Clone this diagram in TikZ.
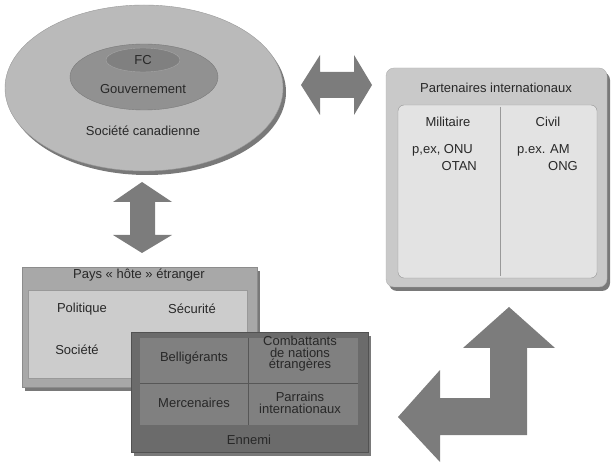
\documentclass[tikz,border=0pt]{standalone}
\usepackage{fontspec}
\setmainfont{Liberation Sans}
\usetikzlibrary{shapes.geometric,shadows}
\definecolor{txt}{HTML}{282828}
\definecolor{arr}{HTML}{7C7C7C}
\begin{document}
\begin{tikzpicture}[x=1pt,y=-1pt,
  lbl/.style={text=txt,font=\fontsize{13}{11.5}\selectfont,inner sep=0pt,align=center},
  shad/.style={drop shadow={shadow xshift=3pt,shadow yshift=-4pt,opacity=0.7,fill=black!75}},
  blockarrow/.style={fill=arr,draw=none}]
\useasboundingbox (0,0) rectangle (611,465);
% Ellipses
\node[ellipse,shad,fill=black!27,draw=black!40,minimum width=278pt,minimum height=166pt,inner sep=0pt] (soc) at (144,88) {};
\node[ellipse,fill=black!43,draw=black!52,minimum width=148pt,minimum height=66pt,inner sep=0pt] (gov) at (144,77) {};
\node[ellipse,fill=black!50,draw=black!35,minimum width=74pt,minimum height=24pt,inner sep=0pt] (fc) at (143,60) {};
\node[lbl] (fct) at (143,60) {FC};
\node[lbl] (govt) at (143,89) {Gouvernement};
\node[lbl] (soct) at (143,131) {Société canadienne};
% Horizontal double arrow
\path[blockarrow] (301,85) -- (320,55) -- (320,72) -- (354,72) -- (354,55) -- (372,85) -- (354,115) -- (354,98) -- (320,98) -- (320,115) -- cycle;
% Vertical double arrow
\path[blockarrow] (142,182) -- (172,202) -- (155,202) -- (155,235) -- (172,235) -- (142,253) -- (113,235) -- (130,235) -- (130,202) -- (113,202) -- cycle;
% L arrow
\path[blockarrow] (509,307) -- (555,348) -- (527,348) -- (527,435) -- (440,435) -- (440,462) -- (398,417) -- (440,370) -- (440,398) -- (490,398) -- (490,348) -- (463,348) -- cycle;
% Partenaires
\path[shad,fill=black!21,draw=black!30,rounded corners=8pt] (386,68) rectangle (607,287);
\node[lbl] (part) at (496,88) {Partenaires internationaux};
\path[fill=black!11,draw=black!42,rounded corners=6pt] (398,105) rectangle (597,278);
\coordinate (dtop) at (500,107);
\coordinate (dbot) at (500,276);
\draw[black!40,line width=0.8pt] (dtop) -- (dbot);
\node[lbl] (mil) at (448,122) {Militaire};
\node[lbl] (civ) at (548,122) {Civil};
\node[lbl,anchor=north west] (mile) at (412,144) {p,ex, ONU};
\node[lbl,anchor=north east] (milo) at (477,161) {OTAN};
\node[lbl,anchor=north west] (cive) at (517,144) {p.ex. AM};
\node[lbl,anchor=north east] (civo) at (578,161) {ONG};
% Pays hote
\path[shad,fill=black!34,draw=black!45] (22,267) rectangle (257,387);
\node[lbl] (pays) at (139,275) {Pays « hôte » étranger};
\path[fill=black!20,draw=black!40] (28,290) rectangle (247,378);
\node[lbl] (pol) at (82,309) {Politique};
\node[lbl] (sec) at (192,309) {Sécurité};
\node[lbl] (socf) at (77,350) {Société};
% Ennemi
\path[shad,fill=black!58,draw=black!68] (131,332) rectangle (368,452);
\path[fill=black!50] (140,338) rectangle (358,425);
\coordinate (vt) at (248,338);
\coordinate (vb) at (248,425);
\coordinate (hl) at (140,383);
\coordinate (hr) at (358,383);
\draw[black!66,line width=0.8pt] (vt) -- (vb);
\draw[black!66,line width=0.8pt] (hl) -- (hr);
\node[lbl] (bel) at (194,358) {Belligérants};
\node[lbl] (comb) at (300,354) {Combattants\\de nations\\étrangères};
\node[lbl] (mer) at (194,403) {Mercenaires};
\node[lbl] (parr) at (300,403) {Parrains\\internationaux};
\node[lbl] (enn) at (249,440) {Ennemi};
\end{tikzpicture}
\end{document}
